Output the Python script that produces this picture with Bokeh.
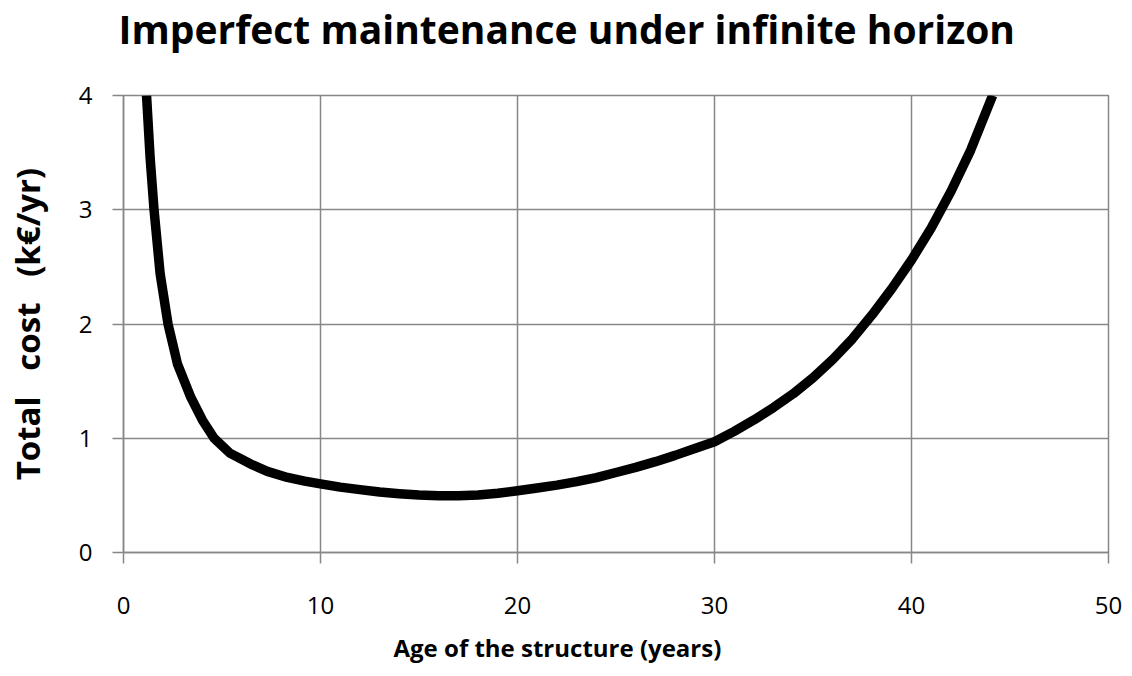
from bokeh.plotting import figure
from bokeh.models import FixedTicker, Range1d, Title
from bokeh.embed import file_html
from bokeh.resources import INLINE

# Data
age_years = [1.17, 1.35, 1.55, 1.86, 2.26, 2.74, 3.42, 4.0, 4.6, 5.4, 6.46, 7.3, 8.32, 9.2, 10.0,
             11.0, 12.0, 13.0, 14.0, 15.0, 16.0, 17.0, 18.0, 19.0, 20.0,
             21.0, 22.0, 23.0, 24.0, 25.0, 26.0, 27.0, 28.0, 29.0, 30.0,
             31.0, 32.0, 33.0, 34.0, 35.0, 36.0, 37.0, 38.0, 39.0, 40.0,
             41.0, 42.0, 43.0, 44.0, 44.12]
total_cost = [4.0, 3.46, 3.0, 2.44, 2.0, 1.65, 1.357, 1.16, 1.0, 0.87, 0.774, 0.71, 0.657, 0.625, 0.60,
              0.572, 0.55, 0.53, 0.515, 0.503, 0.497, 0.497, 0.503, 0.518, 0.54,
              0.565, 0.59, 0.62, 0.655, 0.70, 0.745, 0.795, 0.85, 0.91, 0.97,
              1.06, 1.16, 1.27, 1.39, 1.53, 1.69, 1.87, 2.08, 2.31, 2.56,
              2.84, 3.16, 3.52, 3.95, 4.0]
x_ticks = [0, 10, 20, 30, 40, 50]
y_ticks = [0, 1, 2, 3, 4]

title_text = "Imperfect maintenance under infinite horizon"
x_title = "Age of the structure (years)"
y_title = "Total\u00a0\u00a0 cost\u00a0\u00a0 (k\u20ac/yr)"

GRID = "#878787"
FONT = "Open Sans"

p = figure(width=1124, height=676, output_backend="svg", toolbar_location=None,
           title_location=None,
           x_range=Range1d(0, 50), y_range=Range1d(0, 4),
           min_border_left=123, min_border_right=16, min_border_top=95, min_border_bottom=124)
p.background_fill_color = "white"
p.border_fill_color = "white"
p.outline_line_color = GRID
p.outline_line_width = 1.5

# spacer between frame and main title, then the main title above it
spacer = Title(text=" ", text_font_size="1px", standoff=36)
p.add_layout(spacer, "above")
main_title = Title(text=title_text, align="left", offset=-5, standoff=0, vertical_align="top",
                   text_font=FONT, text_font_style="bold", text_font_size="39px",
                   text_color="black")
p.add_layout(main_title, "above")

p.xaxis.ticker = FixedTicker(ticks=x_ticks)
p.yaxis.ticker = FixedTicker(ticks=y_ticks)
for ax in (p.xaxis, p.yaxis):
    ax.axis_line_color = GRID
    ax.axis_line_width = 1.5
    ax.major_tick_line_color = GRID
    ax.major_tick_line_width = 1.5
    ax.major_tick_in = 0
    ax.major_tick_out = 11
    ax.minor_tick_line_color = None
    ax.major_label_text_font = FONT
    ax.major_label_text_font_size = "24px"
    ax.major_label_text_color = "black"
p.xaxis.major_label_standoff = 33
p.yaxis.major_label_standoff = 20

p.yaxis.axis_label = y_title
p.yaxis.axis_label_text_font = FONT
p.yaxis.axis_label_text_font_style = "bold"
p.yaxis.axis_label_text_font_size = "33px"
p.yaxis.axis_label_text_color = "black"
p.yaxis.axis_label_standoff = 26

xt = Title(text=x_title, align="left", offset=270, standoff=24, text_font=FONT,
           text_font_style="bold", text_font_size="24px", text_color="black")
p.add_layout(xt, "below")

p.xgrid.ticker = FixedTicker(ticks=x_ticks)
p.ygrid.ticker = FixedTicker(ticks=y_ticks)
p.xgrid.grid_line_color = GRID
p.ygrid.grid_line_color = GRID
p.xgrid.grid_line_width = 1.5
p.ygrid.grid_line_width = 1.5

p.line(age_years, total_cost, line_color="black", line_width=9.5, line_join="round")

open("out.html", "w").write(file_html(p, INLINE))
